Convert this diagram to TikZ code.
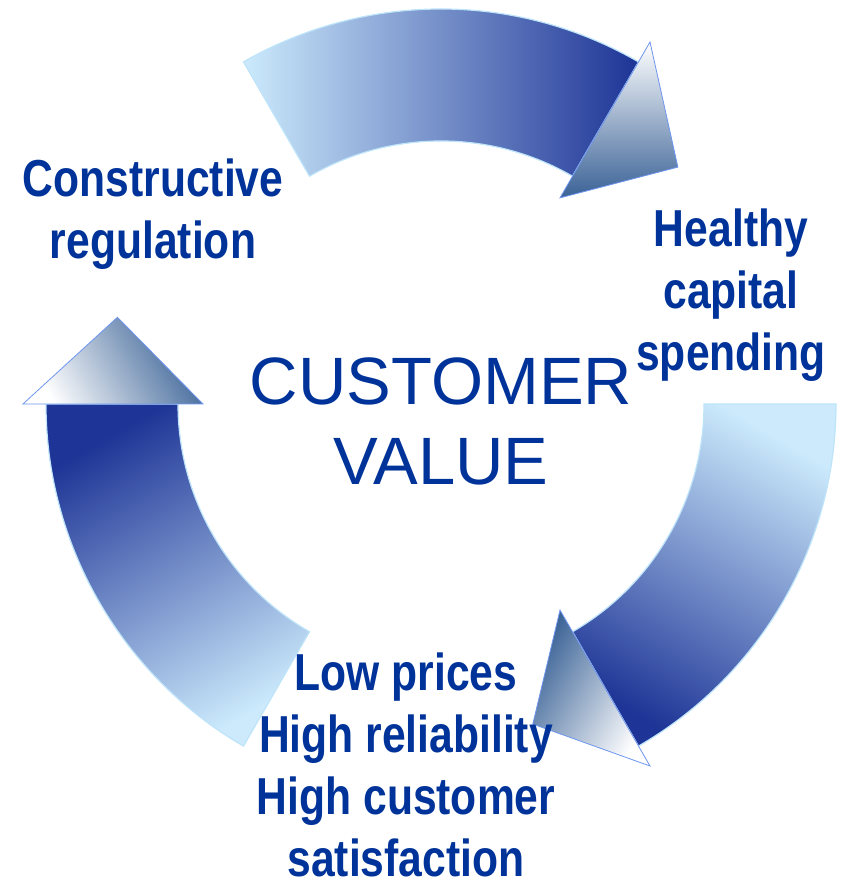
\documentclass[tikz,border=0pt]{standalone}
\usepackage{fontspec}
\setmainfont{Liberation Sans}
\newfontfamily\narrowfont[FakeStretch=0.82]{Liberation Sans}
\definecolor{txtblue}{RGB}{0,51,153}
\definecolor{arrlight}{RGB}{204,234,252}
\definecolor{arrdark}{RGB}{30,52,150}
\definecolor{headdark}{RGB}{58,98,150}
\definecolor{bodyedge}{RGB}{190,228,250}
\definecolor{headedge}{RGB}{110,150,240}
\begin{document}
\begin{tikzpicture}[x=1pt, y=1pt,
    body/.style={draw=bodyedge, line width=1.2pt, top color=arrdark, bottom color=arrlight},
    head/.style={draw=headedge, line width=0.8pt, top color=white, bottom color=headdark},
    cyclelabel/.style={text=txtblue, align=center, inner sep=0pt, font=\narrowfont\bfseries\fontsize{52}{62}\selectfont},
    centrelabel/.style={text=txtblue, align=center, inner sep=0pt, font=\fontsize{67}{80}\selectfont}]
  \useasboundingbox (0,0) rectangle (846,890);
  \begin{scope}[shift={(441,486)}]
    % top arrow
    \path[body, shading angle=-90] (120:395) arc[start angle=120, end angle=60, radius=395]
      -- (60:263) arc[start angle=60, end angle=120, radius=263] -- cycle;
    \path[head, shading angle=0] (60:238) -- (60:418) -- (45:335) -- cycle;
    % right arrow
    \path[body, shading angle=150] (0:395) arc[start angle=0, end angle=-60, radius=395]
      -- (-60:263) arc[start angle=-60, end angle=0, radius=263] -- cycle;
    \path[head, shading angle=-120] (-60:238) -- (-60:418) -- (-74:333) -- cycle;
    % left arrow
    \path[body, shading angle=30] (240:395) arc[start angle=240, end angle=180, radius=395]
      -- (180:263) arc[start angle=180, end angle=240, radius=263] -- cycle;
    \path[head, shading angle=120] (180:238) -- (180:418) -- (165:335) -- cycle;
  \end{scope}

  \node[centrelabel] (custval) at (441,469) {CUSTOMER\\VALUE};
  \node[cyclelabel] (regul) at (153,676) {Constructive\\regulation};
  \node[cyclelabel] (capital) at (731,595) {Healthy\\capital\\spending};
  \node[cyclelabel] (outcome) at (406,125) {Low prices\\High reliability\\High customer\\satisfaction};
\end{tikzpicture}
\end{document}
